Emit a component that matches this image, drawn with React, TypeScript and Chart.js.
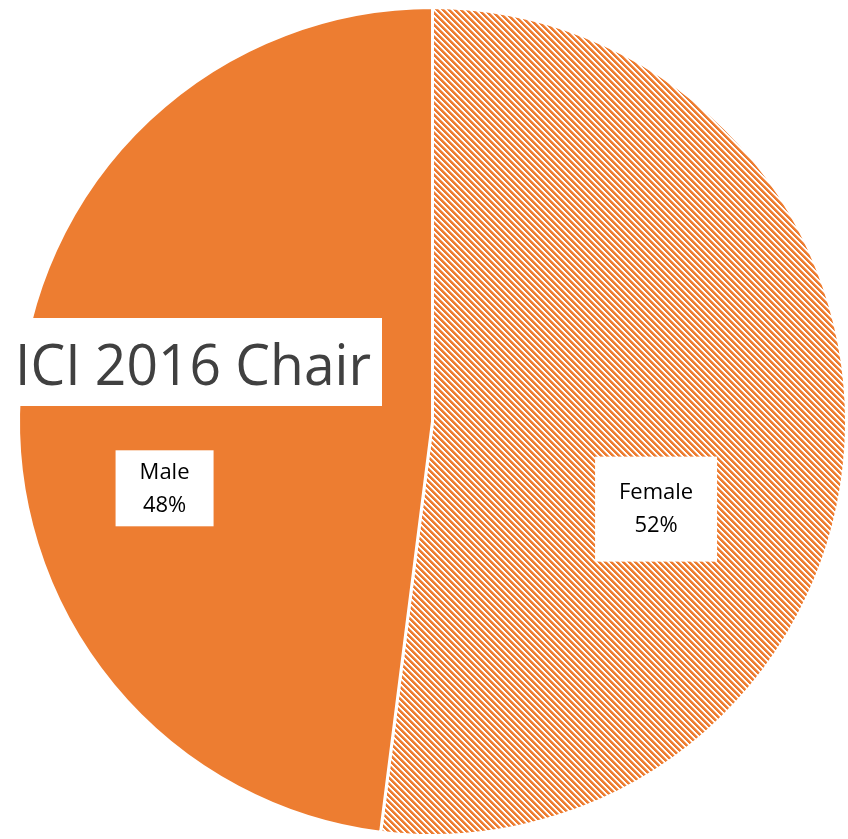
import React, { useEffect, useRef } from "react";
import { Chart, registerables } from "chart.js";

Chart.register(...registerables);

const categories = ["Female", "Male"];
const values = [52, 48];
const title = "ICI 2016 Chair";

const ORANGE = "#ED7D31";

function makeHatch(): CanvasPattern | string {
  const s = 6;
  const c = document.createElement("canvas");
  c.width = s;
  c.height = s;
  const ctx = c.getContext("2d");
  if (!ctx) return ORANGE;
  for (let y = 0; y < s; y++) {
    for (let x = 0; x < s; x++) {
      const m = (((x - y) % s) + s) % s;
      ctx.fillStyle = m <= 2 ? ORANGE : m === 3 ? "#F6B992" : "#ffffff";
      ctx.fillRect(x, y, 1, 1);
    }
  }
  const p = ctx.createPattern(c, "repeat");
  return p || ORANGE;
}

// label placement: [clockwise angle from top (deg), radius fraction, box w, box h]
const labelPlacement = [
  [111.4, 0.58, 122, 105],
  [256, 0.667, 98, 76],
];

const overlayPlugin = {
  id: "overlay",
  afterDraw(chart: any) {
    const ctx = chart.ctx;
    const meta = chart.getDatasetMeta(0);
    const total = values.reduce((a, b) => a + b, 0);
    meta.data.forEach((arc: any, i: number) => {
      const [deg, frac, bw, bh] = labelPlacement[i];
      const th = ((deg - 90) * Math.PI) / 180;
      const x = arc.x + Math.cos(th) * arc.outerRadius * frac;
      const y = arc.y + Math.sin(th) * arc.outerRadius * frac;
      ctx.save();
      ctx.fillStyle = "#ffffff";
      ctx.fillRect(x - bw / 2, y - bh / 2, bw, bh);
      ctx.fillStyle = "#000000";
      ctx.font = "22px 'Open Sans'";
      ctx.textAlign = "center";
      ctx.textBaseline = "middle";
      const pct = Math.round((values[i] / total) * 100) + "%";
      ctx.fillText(categories[i], x, y - 16);
      ctx.fillText(pct, x, y + 17);
      ctx.restore();
    });
    // title box
    ctx.save();
    const bx = 10, by = 318, bw = 372, bh = 88;
    ctx.fillStyle = "#ffffff";
    ctx.fillRect(bx, by, bw, bh);
    ctx.fillStyle = "#404040";
    ctx.font = "56px 'Open Sans'";
    ctx.textBaseline = "alphabetic";
    ctx.textAlign = "left";
    const w = ctx.measureText(title).width;
    const target = 356;
    ctx.translate(15, 385);
    ctx.scale(target / w, 1);
    ctx.fillText(title, 0, 0);
    ctx.restore();
  },
};

export default function App() {
  const ref = useRef<HTMLCanvasElement | null>(null);
  useEffect(() => {
    document.body.style.margin = "0";
    if (!ref.current) return;
    const hatch = makeHatch();
    const chart = new Chart(ref.current, {
      type: "pie",
      data: {
        labels: categories,
        datasets: [
          {
            data: values,
            backgroundColor: [hatch, ORANGE],
            borderColor: "#ffffff",
            borderWidth: 3,
          },
        ],
      },
      options: {
        animation: false,
        responsive: false,
        maintainAspectRatio: false,
        layout: { padding: { left: 17, right: -3, top: 5, bottom: 1 } },
        plugins: {
          legend: { display: false },
          tooltip: { enabled: false },
          title: { display: false },
        },
      },
      plugins: [overlayPlugin],
    });
    return () => chart.destroy();
  }, []);
  return (
    <div style={{ position: "absolute", left: 0, top: 0, width: 848, height: 839, overflow: "hidden" }}>
      <canvas ref={ref} width={848} height={839} style={{ display: "block", width: 848, height: 839 }} />
    </div>
  );
}
